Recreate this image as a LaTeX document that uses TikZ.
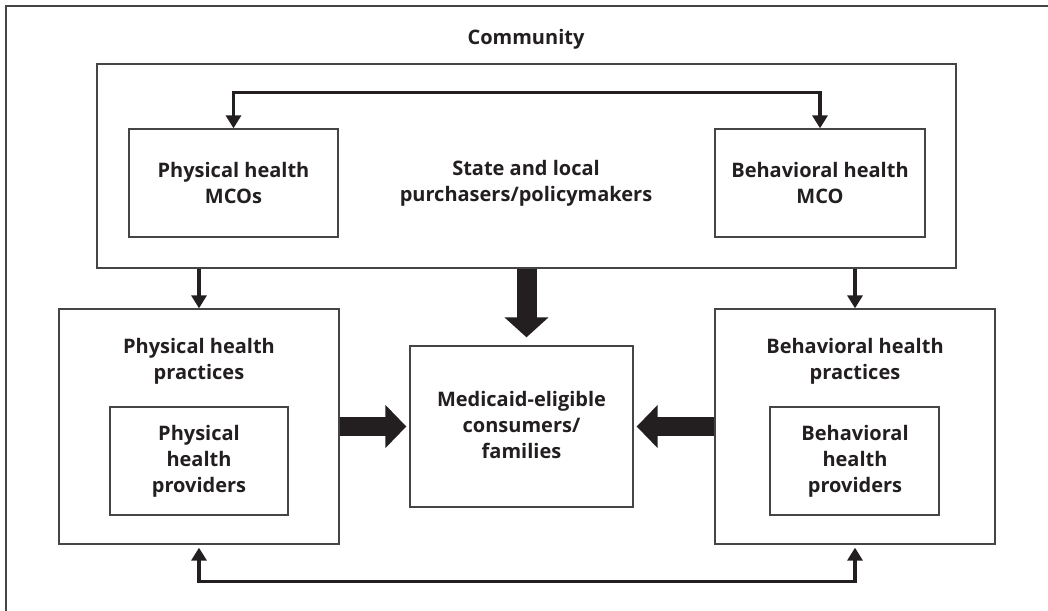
\documentclass[tikz,border=0pt]{standalone}
\usepackage{fontspec}
\setmainfont{Open Sans}
\usetikzlibrary{arrows.meta,fit}
\definecolor{ink}{HTML}{231F20}
\definecolor{boxgray}{HTML}{454545}
\begin{document}
\begin{tikzpicture}[x=0.75pt,y=-0.75pt,
  box/.style={draw=boxgray, line width=1pt, inner sep=0pt},
  lbl/.style={font=\bfseries\fontsize{15}{19.5}\selectfont, align=center, text=ink, yshift=-1.5pt},
  link/.style={draw=ink, line width=2.5pt,
    {Triangle[length=9.75pt,width=11.25pt]}-{Triangle[length=9.75pt,width=11.25pt]}},
  down/.style={draw=ink, line width=2.5pt, -{Triangle[length=9.75pt,width=11.25pt]}},
  bigflow/.style={draw=ink, line width=14.5pt, -{Triangle[length=15.75pt,width=31.5pt]}}
]
\useasboundingbox (0,0) rectangle (1048,610);

% community frame (runs off the page at right and bottom)
\draw[boxgray, line width=1pt] (6,640) -- (6,6) -- (1080,6);
\node[lbl] (comm) at (526,37) {Community};

% purchasers / policymakers and the two MCOs
\node[box, fit={(97,64) (956,268)}] (st) {};
\node[lbl] (sttxt) at (526,181) {State and local\\purchasers/policymakers};
\node[box, fit={(129,129) (338,237)}] (pm) {};
\node[lbl] (pmtxt) at (233.5,181) {Physical health\\MCOs};
\node[box, fit={(715,129) (925,237)}] (bm) {};
\node[lbl] (bmtxt) at (820,181) {Behavioral health\\MCO};

% practices and providers
\node[box, fit={(59,309) (339,544)}] (pp) {};
\node[lbl] (pptxt) at (199,359) {Physical health\\practices};
\node[box, fit={(110,407) (288,515)}] (pv) {};
\node[lbl] (pvtxt) at (199,459) {Physical\\health\\providers};

\node[box, fit={(715,309) (995,544)}] (bp) {};
\node[lbl] (bptxt) at (855,359) {Behavioral health\\practices};
\node[box, fit={(770,407) (939,515)}] (bv) {};
\node[lbl] (bvtxt) at (855,459) {Behavioral\\health\\providers};

% consumers
\node[box, fit={(410,346) (633,507)}] (md) {};
\node[lbl] (mdtxt) at (521.5,423) {Medicaid-eligible\\consumers/\\families};

% connectors
\draw[link] (pm.north) -- ++(0,-36) -| (bm.north);
\draw[down] (pp.north |- st.south) -- (pp.north);
\draw[down] (bp.north |- st.south) -- (bp.north);
\draw[link, shorten <=2.25pt, shorten >=2.25pt] (pp.south) -- ++(0,37) -| (bp.south);

% main flows towards consumers
\draw[bigflow, line width=15pt, -{Triangle[length=15pt,width=32.25pt]}, shorten >=6pt]
  (st.south) -- (st.south |- md.north);
\draw[bigflow, shorten >=2.25pt] (pp.east) -- (md.west);
\draw[bigflow, shorten >=2.25pt] (bp.west) -- (md.east);
\end{tikzpicture}
\end{document}
